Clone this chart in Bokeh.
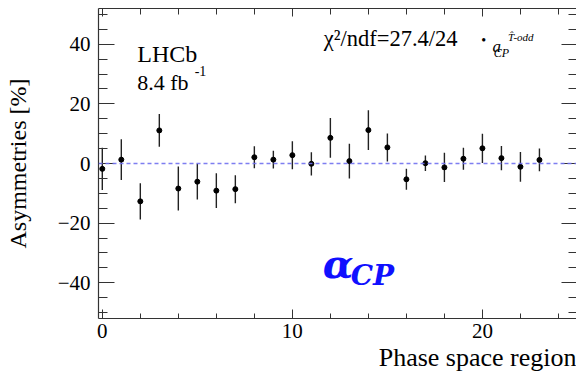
from bokeh.plotting import figure
from bokeh.models import (ColumnDataSource, Range1d, LinearAxis, SingleIntervalTicker,
                          Span, Label, Title, CustomJSTickFormatter)
from bokeh.embed import file_html
from bokeh.resources import INLINE

# ---- data ----
region = list(range(24))
asym = [-1.8, 1.3, -12.7, 11.1, -8.4, -6.1, -9.1, -8.6, 2.1, 1.3, 2.8, -0.1,
        8.6, 0.8, 11.2, 5.4, -5.3, 0.1, -1.3, 1.6, 5.1, 1.8, -1.1, 1.2]
err = [7.1, 6.8, 6.1, 5.5, 7.4, 6.0, 5.8, 4.7, 3.7, 3.0, 4.7, 3.9,
       6.7, 5.8, 6.7, 4.7, 3.5, 2.6, 4.9, 3.7, 4.9, 4.1, 5.0, 3.8]
y_ticks_minus = {-40: "\u221240", -20: "\u221220"}

src = ColumnDataSource(dict(
    x=region, y=asym,
    lo=[v - e for v, e in zip(asym, err)],
    hi=[v + e for v, e in zip(asym, err)],
))

FONT = "'Liberation Serif'"
AX = "#333333"

p = figure(width=576, height=374, output_backend="svg", toolbar_location=None,
           x_range=Range1d(-0.2, 24.95), y_range=Range1d(-52, 52),
           x_axis_location=None, y_axis_location=None,
           min_border_left=98, min_border_right=0, min_border_top=8, min_border_bottom=56)
p.grid.visible = False
p.outline_line_color = None
p.background_fill_color = "white"
p.border_fill_color = "white"

xt = SingleIntervalTicker(interval=10, num_minor_ticks=5)
yt = SingleIntervalTicker(interval=20, num_minor_ticks=4)


def style(ax, labels=True, line=True, major=9, minor=5):
    ax.major_tick_in = major
    ax.major_tick_out = 0
    ax.minor_tick_in = minor
    ax.minor_tick_out = 0
    ax.major_tick_line_color = AX
    ax.minor_tick_line_color = AX
    ax.axis_line_color = AX if line else None
    ax.axis_line_width = 1.2
    ax.major_label_text_font = FONT
    ax.major_label_text_color = "black"
    ax.axis_label_text_font = FONT
    ax.axis_label_text_font_style = "normal"
    ax.axis_label_text_color = "black"
    if not labels:
        ax.formatter = CustomJSTickFormatter(code="return ''")
        ax.major_label_text_font_size = "0px"
        ax.major_label_standoff = 0


bottom = LinearAxis(ticker=xt)
style(bottom, major=9, minor=5)
bottom.major_label_text_font_size = "21px"
bottom.major_label_standoff = 5
p.add_layout(bottom, "below")

# x-axis title, right-aligned at the end of the axis
p.add_layout(Title(text="Phase space region", align="right", text_font=FONT,
                   text_font_size="26px", text_font_style="normal",
                   text_color="black", standoff=0, offset=0), "below")

left = LinearAxis(ticker=yt, axis_label="Asymmetries [%]",
                  major_label_overrides=y_ticks_minus)
style(left, major=16, minor=9)
left.major_label_text_font_size = "21px"
left.major_label_standoff = 8
left.axis_label_text_font_size = "24px"
left.axis_label_standoff = 24
p.add_layout(left, "left")

top = LinearAxis(ticker=xt)
style(top, labels=False, major=8, minor=6)
p.add_layout(top, "above")

right = LinearAxis(ticker=yt)
style(right, labels=False, line=False, major=15, minor=8)
p.add_layout(right, "right")

p.add_layout(Span(location=0, dimension="width", line_color="#7070f0",
                  line_dash="4 3", line_width=1.6, line_alpha=0.9))

p.segment(x0="x", y0="lo", x1="x", y1="hi", source=src,
          line_color="#222222", line_width=1.4)
p.scatter(x="x", y="y", source=src, size=5, color="black")


def lab(x, y, text, size, style="normal", color="black", font=FONT, align="left",
        baseline="alphabetic"):
    p.add_layout(Label(x=x, y=y, text=text, text_font=font, text_font_size=size,
                       text_font_style=style, text_color=color, text_align=align,
                       text_baseline=baseline))


lab(1.84, 36.9, "LHCb", "24px")
lab(1.84, 27.3, "8.4 fb", "22px")
lab(4.86, 30.9, "-1", "14px")
lab(11.65, 41.9, "\u03c7\u00b2/ndf=27.4/24", "22.5px")
lab(20.07, 41.3, "\u2022", "14px", align="center", baseline="middle")
lab(20.53, 39.3, "a", "17px", style="italic")
lab(20.6, 37.0, "CP", "12px", style="italic")
lab(21.35, 42.4, "T\u0302-odd", "11px", style="italic")
lab(11.6, -33.6, "\u03b1", "40px", style="bold italic", color="#1010ff", font="'DejaVu Serif'")
lab(13.07, -37.6, "CP", "28px", style="bold italic", color="#1010ff", font="'DejaVu Serif'")

open("out.html", "w").write(file_html(p, INLINE))
